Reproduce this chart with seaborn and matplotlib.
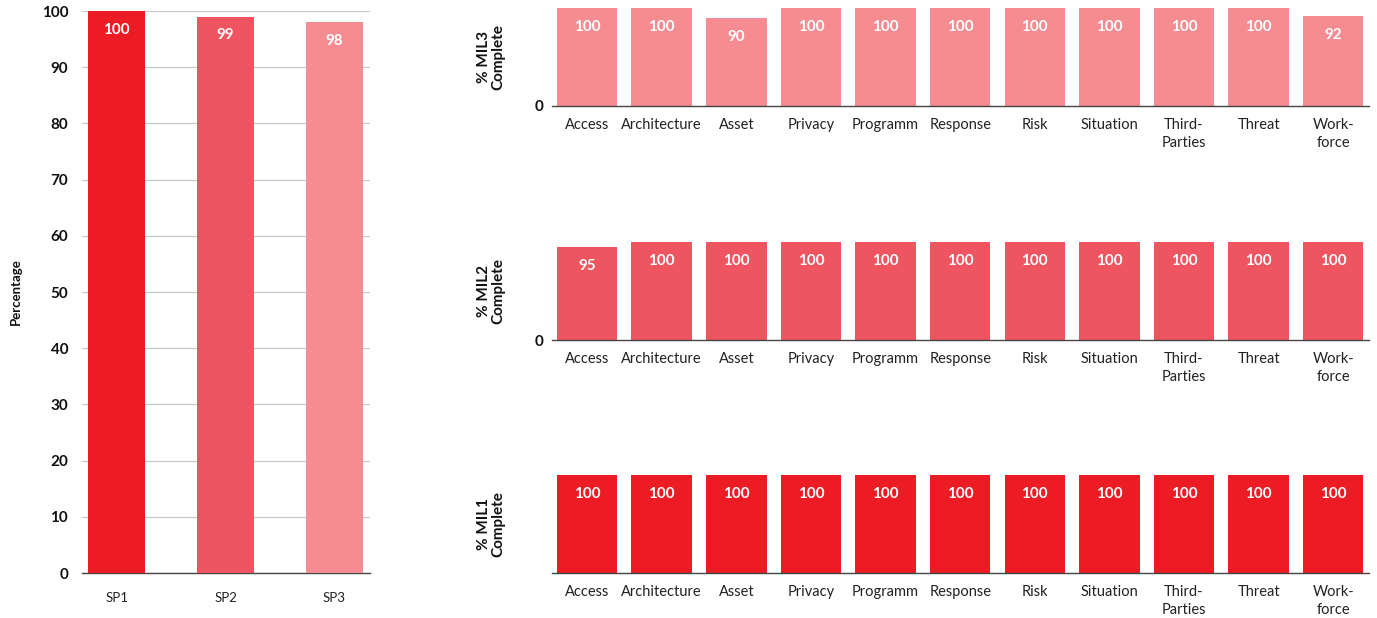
import matplotlib
matplotlib.use("Agg")
import matplotlib.pyplot as plt
import seaborn as sns
import pandas as pd

# ---- data ----
sp_labels = ["SP1", "SP2", "SP3"]
sp_values = [100, 99, 98]

domains = ["Access", "Architecture", "Asset", "Privacy", "Programm", "Response",
           "Risk", "Situation", "Third-\nParties", "Threat", "Work-\nforce"]
mil3_values = [100, 100, 90, 100, 100, 100, 100, 100, 100, 100, 92]
mil2_values = [95, 100, 100, 100, 100, 100, 100, 100, 100, 100, 100]
mil1_values = [100, 100, 100, 100, 100, 100, 100, 100, 100, 100, 100]

red = "#ED1C24"
mid = "#EF5560"
light = "#F48C91"

sns.set_theme(style="white")
plt.rcParams['font.family'] = ['Lato', 'DejaVu Sans']

fig = plt.figure(figsize=(13.77, 6.18), dpi=100)

# ---- left chart ----
axL = fig.add_axes([0.0596, 0.0728, 0.2091, 0.9094])
dfL = pd.DataFrame({"sp": sp_labels, "val": sp_values})
sns.barplot(data=dfL, x="sp", y="val", hue="sp", palette=[red, mid, light],
            saturation=1, width=0.52, legend=False, ax=axL, linewidth=0, zorder=3)
axL.set_ylim(0, 100)
axL.set_xlim(-0.317, 2.326)
axL.set_yticks(range(0, 101, 10))
axL.yaxis.grid(True, color="#c8c8c8", linewidth=0.9, zorder=0)
axL.set_axisbelow(True)
for s in ["left", "right", "top"]:
    axL.spines[s].set_visible(False)
axL.spines["bottom"].set_color("#444444")
axL.spines["bottom"].set_linewidth(1.0)
axL.tick_params(axis="both", length=0)
axL.tick_params(axis="x", pad=14, labelsize=9.5, labelcolor="#222222")
axL.tick_params(axis="y", pad=10, labelsize=11, labelcolor="#111111")
for lab in axL.get_yticklabels():
    lab.set_fontweight("bold")
axL.set_xlabel("")
axL.set_ylabel("Percentage", fontsize=9.5, fontweight="bold", color="#111111")
axL.yaxis.set_label_coords(-0.21, 0.5)
for i, v in enumerate(sp_values):
    axL.annotate(str(v), xy=(i, v), xytext=(0, -13.5), textcoords="offset points",
                 ha="center", va="center", color="white", fontsize=11, fontweight="bold",
                 zorder=5)

# ---- right panels ----
panels = [
    (mil3_values, light, "% MIL3\nComplete", 0.8285, True),
    (mil2_values, mid, "% MIL2\nComplete", 0.4498, True),
    (mil1_values, red, "% MIL1\nComplete", 0.0728, False),
]
for vals, col, ylab, y0, show_zero in panels:
    ax = fig.add_axes([0.4009, y0, 0.5933, 0.1586])
    df = pd.DataFrame({"domain": domains, "val": vals})
    sns.barplot(data=df, x="domain", y="val", color=col, saturation=1,
                width=0.81, linewidth=0, ax=ax)
    ax.set_ylim(0, 100)
    ax.set_xlim(-0.47, 10.48)
    for s in ["left", "right", "top"]:
        ax.spines[s].set_visible(False)
    ax.spines["bottom"].set_color("#444444")
    ax.spines["bottom"].set_linewidth(1.0)
    ax.tick_params(axis="both", length=0)
    ax.tick_params(axis="x", pad=8.5, labelsize=10.5, labelcolor="#222222")
    ax.set_xlabel("")
    if show_zero:
        ax.set_yticks([0])
        ax.tick_params(axis="y", pad=6, labelsize=11, labelcolor="#111111")
        for lab in ax.get_yticklabels():
            lab.set_fontweight("bold")
    else:
        ax.set_yticks([])
    ax.set_ylabel(ylab, fontsize=11, fontweight="bold", color="#111111",
                  linespacing=1.05)
    ax.yaxis.set_label_coords(-0.057, 0.5)
    for lab in ax.get_xticklabels():
        lab.set_linespacing(1.35)
        lab.set_verticalalignment("top")
    for i, v in enumerate(vals):
        ax.annotate(str(v), xy=(i, v), xytext=(0, -13.5), textcoords="offset points",
                    ha="center", va="center", color="white", fontsize=11,
                    fontweight="bold", zorder=5)

fig.savefig("out.png", dpi=100)
